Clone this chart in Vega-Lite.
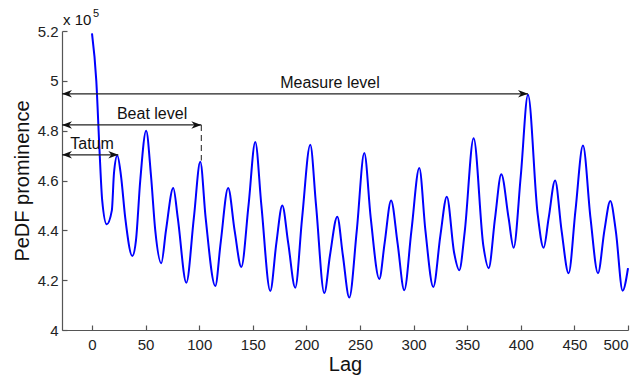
{
  "$schema": "https://vega.github.io/schema/vega-lite/v6.json",
  "width": 566,
  "height": 299,
  "autosize": {"type": "none"},
  "padding": {"left": 62, "top": 31, "right": 13, "bottom": 45},
  "background": "white",
  "config": {
    "view": {"stroke": null},
    "font": "Liberation Sans",
    "axis": {"grid": false, "domainColor": "#555", "tickColor": "#555", "labelColor": "#222", "titleColor": "#111", "labelFont": "Liberation Sans", "titleFont": "Liberation Sans", "labelFontSize": 15, "titleFontSize": 20, "titleFontWeight": "normal", "tickSize": -5, "domainWidth": 1.2, "tickWidth": 1.2}
  },
  "layer": [
    {
      "data": {"values": [
        {"lag": 0, "v": 5.19}, {"lag": 4, "v": 5.0}, {"lag": 7, "v": 4.72}, {"lag": 9.5, "v": 4.52}, {"lag": 13.7, "v": 4.424},
        {"lag": 18.5, "v": 4.48}, {"lag": 20.5, "v": 4.63}, {"lag": 23.6, "v": 4.7}, {"lag": 27, "v": 4.62}, {"lag": 31, "v": 4.45},
        {"lag": 37.6, "v": 4.297}, {"lag": 41, "v": 4.36}, {"lag": 45, "v": 4.6}, {"lag": 50.5, "v": 4.8}, {"lag": 55, "v": 4.62},
        {"lag": 59, "v": 4.4}, {"lag": 64.6, "v": 4.268}, {"lag": 69, "v": 4.4}, {"lag": 75.8, "v": 4.57}, {"lag": 80, "v": 4.45},
        {"lag": 88, "v": 4.19}, {"lag": 95, "v": 4.45}, {"lag": 101, "v": 4.675}, {"lag": 106, "v": 4.45}, {"lag": 115, "v": 4.177},
        {"lag": 120, "v": 4.35}, {"lag": 127, "v": 4.57}, {"lag": 133, "v": 4.4}, {"lag": 139.3, "v": 4.253}, {"lag": 146, "v": 4.5},
        {"lag": 152.3, "v": 4.755}, {"lag": 158, "v": 4.5}, {"lag": 166.3, "v": 4.157}, {"lag": 172, "v": 4.35}, {"lag": 177.5, "v": 4.5},
        {"lag": 183, "v": 4.35}, {"lag": 189.6, "v": 4.17}, {"lag": 196, "v": 4.45}, {"lag": 203.6, "v": 4.743}, {"lag": 209, "v": 4.5},
        {"lag": 216.7, "v": 4.148}, {"lag": 222, "v": 4.3}, {"lag": 228.8, "v": 4.455}, {"lag": 234, "v": 4.3}, {"lag": 240, "v": 4.13},
        {"lag": 247, "v": 4.4}, {"lag": 254, "v": 4.71}, {"lag": 260, "v": 4.45}, {"lag": 268, "v": 4.205}, {"lag": 273, "v": 4.35},
        {"lag": 279, "v": 4.52}, {"lag": 285, "v": 4.35}, {"lag": 291.3, "v": 4.16}, {"lag": 298, "v": 4.4}, {"lag": 305.3, "v": 4.65},
        {"lag": 311, "v": 4.4}, {"lag": 318.4, "v": 4.173}, {"lag": 325, "v": 4.38}, {"lag": 331, "v": 4.535}, {"lag": 337.8, "v": 4.31},
        {"lag": 342.6, "v": 4.24}, {"lag": 347.7, "v": 4.395}, {"lag": 356, "v": 4.77}, {"lag": 365, "v": 4.34}, {"lag": 370, "v": 4.248},
        {"lag": 376, "v": 4.45}, {"lag": 381.8, "v": 4.625}, {"lag": 388.6, "v": 4.45}, {"lag": 393.3, "v": 4.33}, {"lag": 400, "v": 4.62},
        {"lag": 406.7, "v": 4.944}, {"lag": 415.6, "v": 4.47}, {"lag": 421.3, "v": 4.33}, {"lag": 426, "v": 4.45}, {"lag": 432, "v": 4.6},
        {"lag": 438, "v": 4.4}, {"lag": 444.6, "v": 4.228}, {"lag": 451, "v": 4.48}, {"lag": 458, "v": 4.74}, {"lag": 465, "v": 4.45},
        {"lag": 472, "v": 4.228}, {"lag": 478, "v": 4.4}, {"lag": 483.5, "v": 4.518}, {"lag": 488.7, "v": 4.395}, {"lag": 495, "v": 4.158},
        {"lag": 500, "v": 4.248}
      ]},
      "mark": {"type": "line", "color": "#0000ff", "strokeWidth": 2, "interpolate": "monotone"},
      "encoding": {
        "x": {"field": "lag", "type": "quantitative", "title": "Lag",
              "scale": {"domain": [-28, 500], "nice": false, "zero": false},
              "axis": {"values": [0, 50, 100, 150, 200, 250, 300, 350, 400, 450, 500], "labelPadding": 12, "titlePadding": 2}},
        "y": {"field": "v", "type": "quantitative", "title": "PeDF prominence",
              "scale": {"domain": [4, 5.2], "nice": false, "zero": false},
              "axis": {"values": [4, 4.2, 4.4, 4.6, 4.8, 5, 5.2], "format": "~g", "labelPadding": 9, "titlePadding": 5}}
      }
    },
    {
      "data": {"values": [
        {"name": "Measure level", "x1": -28, "x2": 406.7, "y": 4.948, "xt": 222},
        {"name": "Beat level", "x1": -28, "x2": 102, "y": 4.823, "xt": 56},
        {"name": "Tatum", "x1": -28, "x2": 24.5, "y": 4.703, "xt": 0}
      ]},
      "layer": [
        {"mark": {"type": "rule", "color": "#222", "strokeWidth": 1.2},
         "encoding": {"x": {"field": "x1", "type": "quantitative"}, "x2": {"field": "x2"}, "y": {"field": "y", "type": "quantitative"}}},
        {"mark": {"type": "point", "filled": true, "color": "#111", "opacity": 1, "size": 100, "shape": "M 0 0 L -2 -0.75 L -1.4 0 L -2 0.75 Z"},
         "encoding": {"x": {"field": "x2", "type": "quantitative"}, "y": {"field": "y", "type": "quantitative"}}},
        {"mark": {"type": "point", "filled": true, "color": "#111", "opacity": 1, "size": 100, "shape": "M 0 0 L 2 -0.75 L 1.4 0 L 2 0.75 Z"},
         "encoding": {"x": {"field": "x1", "type": "quantitative"}, "y": {"field": "y", "type": "quantitative"}}},
        {"mark": {"type": "text", "fontSize": 16, "color": "#111", "baseline": "middle", "align": "center", "dy": -11},
         "encoding": {"x": {"field": "xt", "type": "quantitative"}, "y": {"field": "y", "type": "quantitative"}, "text": {"field": "name"}}}
      ]
    },
    {
      "data": {"values": [{"x": 102, "y1": 4.823, "y2": 4.68}]},
      "mark": {"type": "rule", "color": "#444", "strokeWidth": 1.2, "strokeDash": [6, 4]},
      "encoding": {"x": {"field": "x", "type": "quantitative"}, "y": {"field": "y1", "type": "quantitative"}, "y2": {"field": "y2"}}
    },
    {
      "data": {"values": [{"x": -28, "y": 5.2, "t": "x 10"}]},
      "mark": {"type": "text", "fontSize": 15, "color": "#111", "align": "left", "baseline": "bottom", "dx": 1, "dy": -3},
      "encoding": {"x": {"field": "x", "type": "quantitative"}, "y": {"field": "y", "type": "quantitative"}, "text": {"field": "t"}}
    },
    {
      "data": {"values": [{"x": -28, "y": 5.2, "t": "5"}]},
      "mark": {"type": "text", "fontSize": 11, "color": "#111", "align": "left", "baseline": "bottom", "dx": 31, "dy": -12},
      "encoding": {"x": {"field": "x", "type": "quantitative"}, "y": {"field": "y", "type": "quantitative"}, "text": {"field": "t"}}
    }
  ]
}
